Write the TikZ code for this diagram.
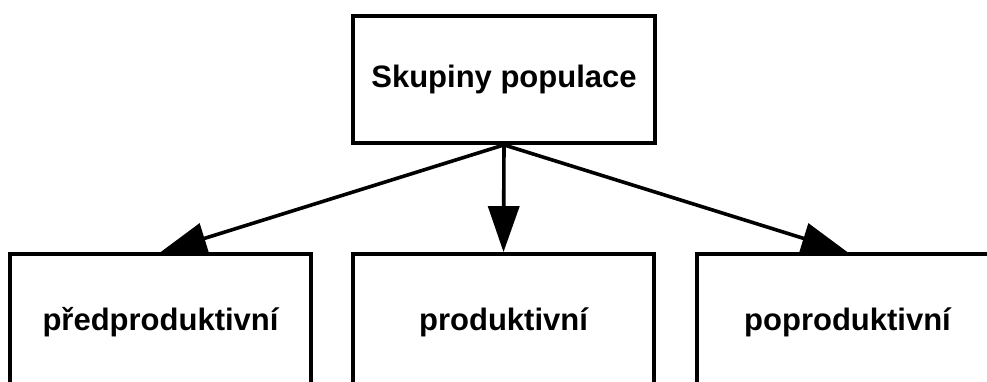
\documentclass[tikz,border=0pt]{standalone}
\usepackage{fontspec}
\setmainfont{Liberation Sans}
\usetikzlibrary{arrows.meta}
\begin{document}
\begin{tikzpicture}[x=1pt,y=-1pt,
  box/.style={draw, line width=3.8pt, minimum width=301pt, inner sep=0pt,
    font=\fontsize{31}{36}\selectfont\bfseries},
  conn/.style={line width=3.6pt, -{Triangle[length=46pt,width=31pt]}}]
\useasboundingbox (0,0) rectangle (987,381);
\clip (0,0) rectangle (987,381);
\node[box, minimum width=302pt, minimum height=127pt] (top) at (504,79.5) {Skupiny populace};
\node[box, minimum height=136pt] (pre) at (160.5,322) {předproduktivní};
\node[box, minimum height=136pt] (pro) at (503.5,322) {produktivní};
\node[box, minimum height=136pt] (post) at (847.5,322) {poproduktivní};
\draw[conn] (top.south) -- (pre.north);
\draw[conn] (top.south) -- (pro.north);
\draw[conn] (top.south) -- (post.north);
\end{tikzpicture}
\end{document}
